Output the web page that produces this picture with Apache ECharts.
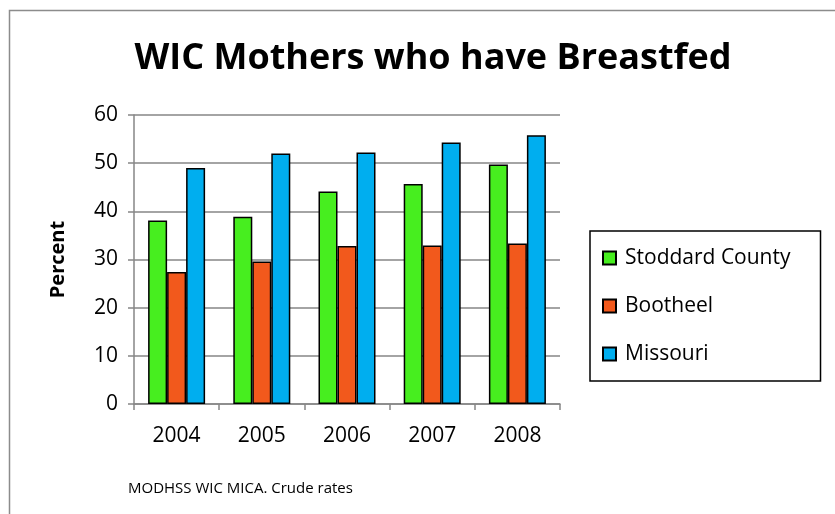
<!DOCTYPE html>
<html>
<head>
<meta charset="utf-8">
<script src="https://cdn.jsdelivr.net/npm/echarts@6/dist/echarts.min.js"></script>
<style>
    html, body { margin: 0; padding: 0; background: #fff; }
    #chart { width: 835px; height: 514px; }
</style>
</head>
<body>
<div id="chart"></div>
<script>
    var years = ['2004', '2005', '2006', '2007', '2008'];
    var stoddard = [38.1, 38.9, 44.1, 45.7, 49.7];
    var bootheel = [27.4, 29.6, 32.8, 32.9, 33.3];
    var missouri = [49.0, 52.0, 52.2, 54.3, 55.8];
    var yTicks = [0, 10, 20, 30, 40, 50, 60];

    var font = '"Open Sans", "Liberation Sans", sans-serif';
    var chart = echarts.init(document.getElementById('chart'));

    function barSeries(name, data, color) {
        return {
            name: name,
            type: 'bar',
            data: data,
            barWidth: 19,
            barGap: '0%',
            itemStyle: { color: color, borderColor: '#000', borderWidth: 1.5 }
        };
    }

    chart.setOption({
        animation: false,
        graphic: [
            {
                type: 'rect',
                shape: { x: 9.5, y: 10.5, width: 840, height: 540 },
                style: { fill: 'none', stroke: '#8c8c8c', lineWidth: 1.5 }
            },
            {
                type: 'text',
                left: 128, top: 481,
                style: { text: 'MODHSS WIC MICA. Crude rates', font: '15px ' + font, fill: '#000' }
            }
        ],
        title: {
            text: 'WIC Mothers who have Breastfed',
            left: 428,
            top: 36,
            textAlign: 'center',
            textStyle: { fontFamily: font, fontSize: 36, fontWeight: 'bold', color: '#000' }
        },
        legend: {
            orient: 'vertical',
            left: 590,
            top: 231,
            width: 240,
            padding: [13, 30, 13, 12],
            itemGap: 20,
            itemWidth: 13,
            itemHeight: 13,
            borderColor: '#000',
            borderWidth: 1.5,
            icon: 'rect',
            textStyle: { fontFamily: font, fontSize: 21, lineHeight: 28, color: '#000', padding: [0, 0, 0, 4] },
            data: ['Stoddard County', 'Bootheel', 'Missouri']
        },
        grid: { left: 134, right: 275, top: 115, bottom: 110 },
        xAxis: {
            type: 'category',
            data: years,
            axisLine: { lineStyle: { color: '#868686', width: 1.5 } },
            axisTick: { show: true, length: 6, lineStyle: { color: '#868686', width: 1.5 } },
            axisLabel: { fontFamily: font, fontSize: 21, color: '#000', margin: 22 }
        },
        yAxis: {
            type: 'value',
            min: yTicks[0],
            max: yTicks[yTicks.length - 1],
            interval: 10,
            name: 'Percent',
            nameLocation: 'middle',
            nameGap: 66,
            nameTextStyle: { fontFamily: font, fontSize: 20, fontWeight: 'bold', color: '#000' },
            axisLine: { show: true, lineStyle: { color: '#868686', width: 1.5 } },
            axisTick: { show: true, length: 6, lineStyle: { color: '#868686', width: 1.5 } },
            axisLabel: { fontFamily: font, fontSize: 21, color: '#000', margin: 16 },
            splitLine: { lineStyle: { color: '#868686', width: 1.5 } }
        },
        series: [
            barSeries('Stoddard County', stoddard, '#47ee1f'),
            barSeries('Bootheel', bootheel, '#f2591c'),
            barSeries('Missouri', missouri, '#00aeef')
        ]
    });
</script>
</body>
</html>
